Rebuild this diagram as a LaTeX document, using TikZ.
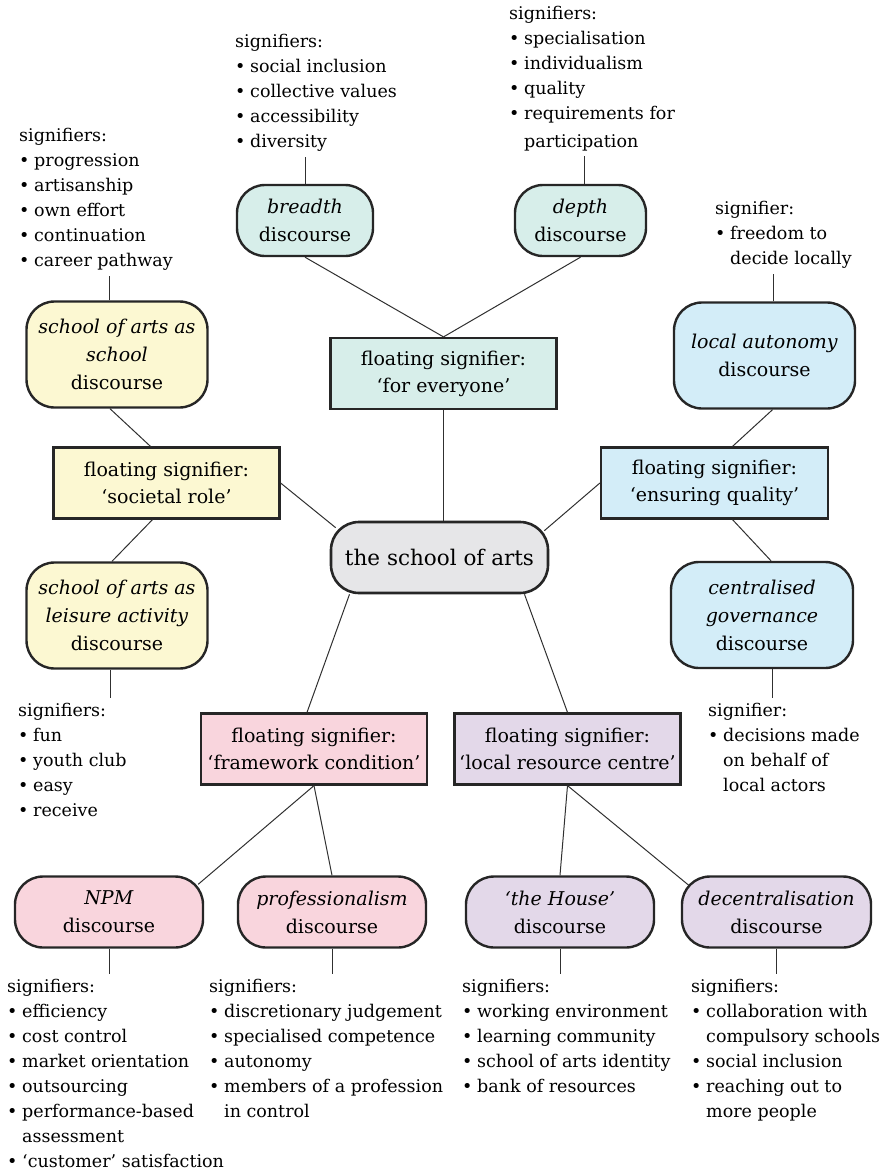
\documentclass[tikz,border=0pt]{standalone}
\usepackage{fontspec}
\setmainfont{DejaVu Serif}
\usepackage{xcolor}
\usetikzlibrary{positioning}

\definecolor{edge}{HTML}{262626}
\definecolor{linkcol}{HTML}{303030}
\definecolor{yellowfill}{HTML}{FCF8D2}
\definecolor{tealfill}{HTML}{D7EEEA}
\definecolor{bluefill}{HTML}{D3EDF8}
\definecolor{pinkfill}{HTML}{F9D5DD}
\definecolor{purplefill}{HTML}{E3D8E9}
\definecolor{grayfill}{HTML}{E6E6E8}

\newcommand{\bul}{\makebox[15pt][l]{\textbullet}}
\newcommand{\cont}{\hspace*{15pt}}

\begin{document}
\begin{tikzpicture}[
    x=1pt, y=-1pt,
    disc/.style={
        draw=edge,
        line width=2.4pt,
        rounded corners=28pt,
        minimum width=188pt,
        minimum height=71pt,
        inner sep=0pt,
        align=center,
        font=\fontsize{19}{28}\selectfont
    },
    tall/.style={
        disc,
        minimum width=181pt,
        minimum height=106pt
    },
    floating/.style={
        draw=edge,
        line width=2.2pt,
        minimum width=226pt,
        minimum height=71pt,
        inner sep=0pt,
        align=center,
        font=\fontsize{19}{27}\selectfont
    },
    sig/.style={
        anchor=north west,
        inner sep=0pt,
        align=left,
        font=\fontsize{17.5}{25}\selectfont
    },
    link/.style={
        draw=linkcol,
        line width=1pt
    },
    tosig/.style={
        link,
        shorten >=5pt
    }
]
\useasboundingbox (0,0) rectangle (883,1172);

% Centre
\node (arts) at (439.5,557.5) [disc, fill=grayfill, minimum width=217pt, line width=2.6pt,
    font=\fontsize{21.5}{28}\selectfont] {the school of arts};

% Top: for everyone
\node (forevery) at (443.5,373.5) [floating, fill=tealfill] {floating signifier:\\‘for everyone’};
\node (breadth) at (305,220.5) [disc, fill=tealfill, minimum width=136pt] {\textit{breadth}\\discourse};
\node (depth) at (580.5,220.5) [disc, fill=tealfill, minimum width=131pt] {\textit{depth}\\discourse};

% Left: societal role
\node (societal) at (166.5,483) [floating, fill=yellowfill] {floating signifier:\\‘societal role’};
\node (school) at (117,354.5) [tall, fill=yellowfill] {\textit{school of arts as}\\\textit{school}\\discourse};
\node (leisure) at (117,615.5) [tall, fill=yellowfill] {\textit{school of arts as}\\\textit{leisure activity}\\discourse};

% Right: ensuring quality
\node (ensuring) at (714.5,483) [floating, fill=bluefill, minimum width=227pt] {floating signifier:\\‘ensuring quality’};
\node (autonomy) at (764.5,355.5) [tall, fill=bluefill] {\textit{local autonomy}\\discourse};
\node (centralised) at (762,615) [tall, fill=bluefill, minimum width=182pt] {\textit{centralised}\\\textit{governance}\\discourse};

% Bottom left: framework condition
\node (framework) at (314,749) [floating, fill=pinkfill] {floating signifier:\\‘framework condition’};
\node (npm) at (109,912) [disc, fill=pinkfill] {\textit{NPM}\\discourse};
\node (prof) at (332,912) [disc, fill=pinkfill] {\textit{professionalism}\\discourse};

% Bottom right: local resource centre
\node (localres) at (567.5,749) [floating, fill=purplefill] {floating signifier:\\‘local resource centre’};
\node (house) at (560,912) [disc, fill=purplefill] {\textit{‘the House’}\\discourse};
\node (decentral) at (776.5,912) [disc, fill=purplefill, minimum width=189pt] {\textit{decentralisation}\\discourse};

% Signifier lists
\node (sigbreadth) at (235,34) [sig] {signifiers:\\\bul social inclusion\\\bul collective values\\\bul accessibility\\\bul diversity};
\node (sigdepth) at (509,6) [sig] {signifiers:\\\bul specialisation\\\bul individualism\\\bul quality\\\bul requirements for\\[3pt]\cont participation};
\node (sigschool) at (19,128) [sig] {signifiers:\\\bul progression\\\bul artisanship\\\bul own effort\\\bul continuation\\\bul career pathway};
\node (sigautonomy) at (715,201) [sig] {signifier:\\\bul freedom to\\\cont decide locally};
\node (sigleisure) at (18,703) [sig] {signifiers:\\\bul fun\\\bul youth club\\\bul easy\\\bul receive};
\node (sigcentral) at (708,703) [sig] {signifier:\\\bul decisions made\\\cont on behalf of\\\cont local actors};
\node (signpm) at (7,979) [sig] {signifiers:\\\bul efficiency\\\bul cost control\\\bul market orientation\\\bul outsourcing\\\bul performance-based\\\cont assessment\\\bul ‘customer’ satisfaction};
\node (sigprof) at (209,979) [sig] {signifiers:\\\bul discretionary judgement\\\bul specialised competence\\\bul autonomy\\\bul members of a profession\\\cont in control};
\node (sighouse) at (462,979) [sig] {signifiers:\\\bul working environment\\\bul learning community\\\bul school of arts identity\\\bul bank of resources};
\node (sigdecentral) at (691,979) [sig] {signifiers:\\\bul collaboration with\\\cont compulsory schools\\\bul social inclusion\\\bul reaching out to\\\cont more people};

% Links between discourses, floating signifiers and the centre
\draw [link] (breadth.south) -- (forevery.north);
\draw [link] (depth.south) -- (forevery.north);
\draw [link] (forevery.south) -- (forevery.south |- arts.north);
\draw [link] ([xshift=-7pt]school.south) -- ([xshift=-16pt]societal.north);
\draw [link] (societal.east) -- ([xshift=6pt,yshift=-7pt]arts.north west);
\draw [link] ([xshift=-14pt]societal.south) -- ([xshift=-5pt]leisure.north);
\draw [link] ([xshift=8pt]autonomy.south) -- ([xshift=18pt]ensuring.north);
\draw [link] (ensuring.west) -- ([xshift=-5pt,yshift=-10pt]arts.north east);
\draw [link] ([xshift=18pt]ensuring.south) -- ([xshift=9pt]centralised.north);
\draw [link] ([xshift=-90pt]arts.south) -- ([xshift=-7pt]framework.north);
\draw [link] ([xshift=85pt]arts.south) -- (localres.north);
\draw [link] (framework.south) -- ([xshift=-6pt,yshift=-9pt]npm.north east);
\draw [link] (framework.south) -- (prof.north);
\draw [link] (localres.south) -- (house.north);
\draw [link] (localres.south) -- ([xshift=8pt,yshift=-10pt]decentral.north west);

% Links to the signifier lists
\draw [tosig] (breadth.north) -- (breadth.north |- sigbreadth.south);
\draw [tosig] ([xshift=4pt]depth.north) -- ([xshift=4pt]depth.north |- sigdepth.south);
\draw [tosig] ([xshift=-8pt]school.north) -- ([xshift=-8pt]school.north |- sigschool.south);
\draw [tosig] ([xshift=9pt]autonomy.north) -- ([xshift=9pt]autonomy.north |- sigautonomy.south);
\draw [tosig] ([xshift=-7pt]leisure.south) -- ([xshift=-7pt]leisure.south |- sigleisure.north);
\draw [tosig] ([xshift=10pt]centralised.south) -- ([xshift=10pt]centralised.south |- sigcentral.north);
\draw [tosig] (npm.south) -- (npm.south |- signpm.north);
\draw [tosig] (prof.south) -- (prof.south |- sigprof.north);
\draw [tosig] (house.south) -- (house.south |- sighouse.north);
\draw [tosig] (decentral.south) -- (decentral.south |- sigdecentral.north);

\end{tikzpicture}
\end{document}
